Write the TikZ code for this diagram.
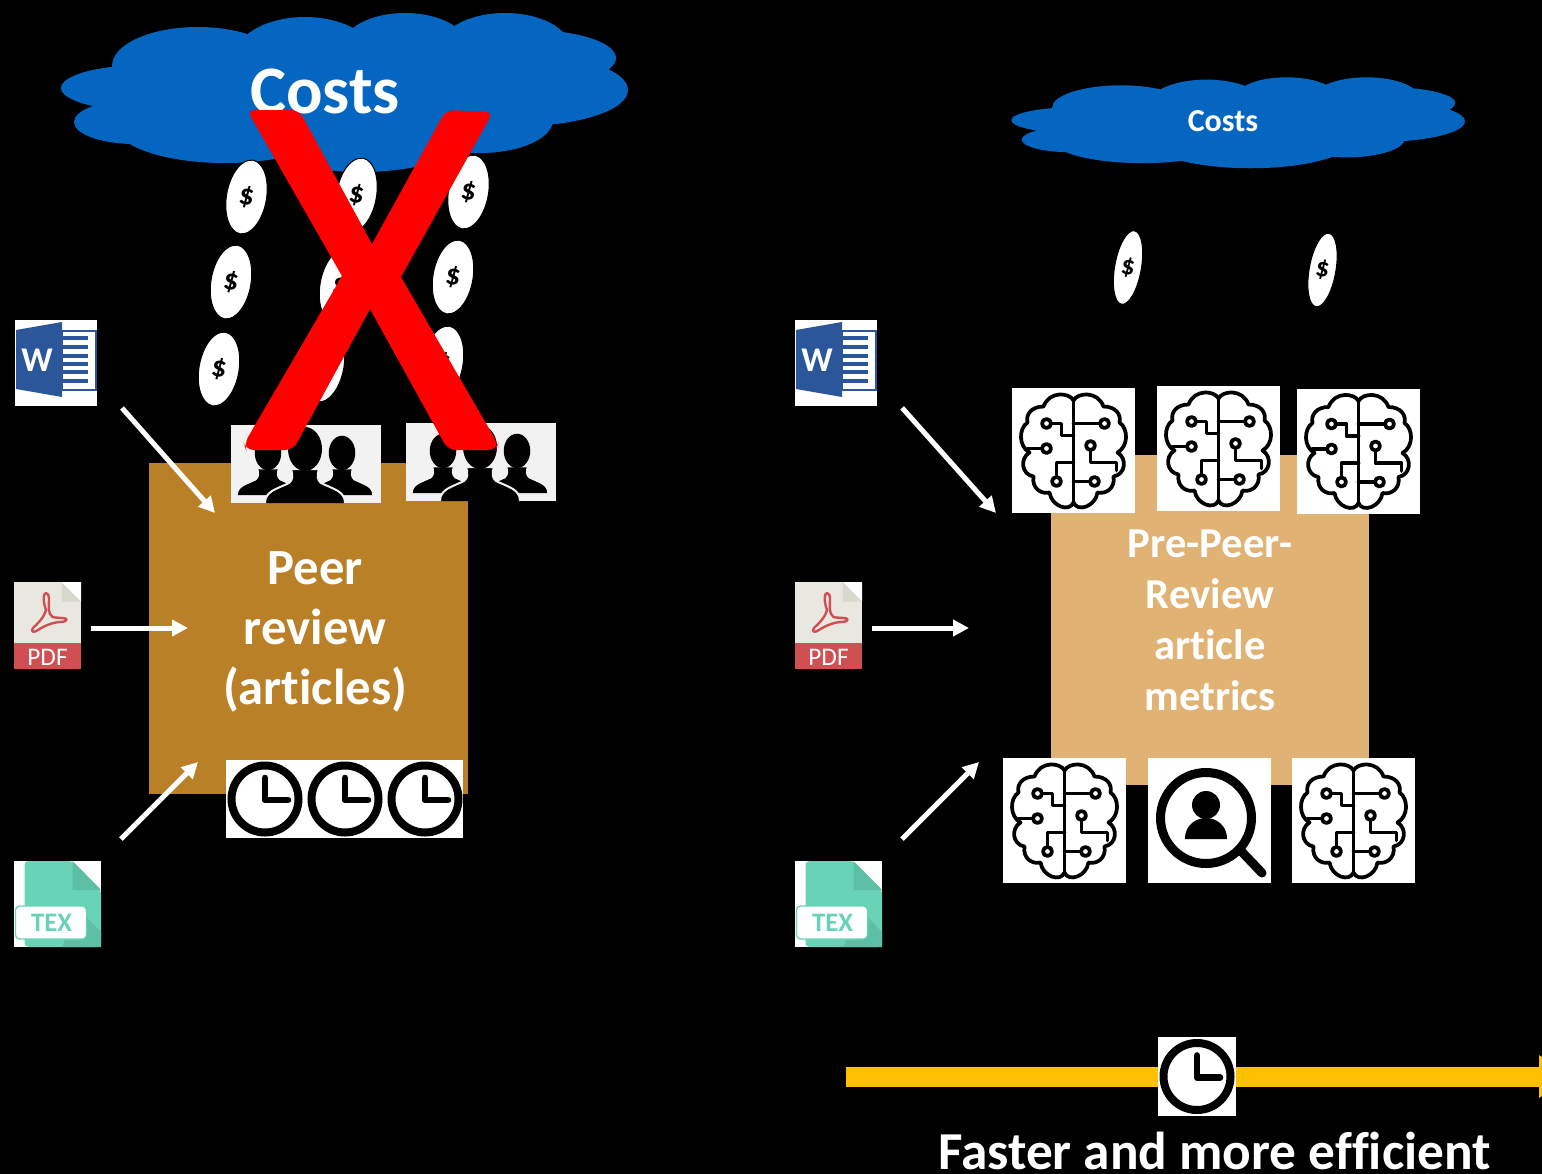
\documentclass[tikz,border=0pt]{standalone}
\usepackage{fontspec}
\setmainfont{Carlito}[Ligatures=NoCommon]
\usetikzlibrary{arrows.meta,shapes.geometric}

\definecolor{cloudblue}{RGB}{4,102,193}
\definecolor{peerbrown}{RGB}{186,128,40}
\definecolor{metrictan}{RGB}{224,178,115}
\definecolor{wordblue}{RGB}{43,87,154}
\definecolor{pdfred}{RGB}{208,79,82}
\definecolor{pdfgrey}{RGB}{232,232,224}
\definecolor{pdffold}{RGB}{216,216,204}
\definecolor{texgreen}{RGB}{105,211,184}
\definecolor{texfold}{RGB}{93,191,166}
\definecolor{timeyellow}{RGB}{255,192,0}
\definecolor{peoplegrey}{RGB}{242,242,242}

\tikzset{
    every pic/.style={yscale=-1},
    whitebox/.style={rectangle,fill=white,inner sep=0pt},
    brainbox/.style={whitebox,minimum width=92.25pt,minimum height=93.75pt},
    clockbox/.style={whitebox,minimum height=58.5pt},
    coin/.style={
        ellipse,draw=black,fill=white,line width=0.75pt,inner sep=0pt,
        minimum width=30pt,minimum height=56pt,rotate=-10,
        font=\bfseries\fontsize{22}{22}\selectfont
    },
    thincoin/.style={coin,minimum width=20pt,font=\bfseries\fontsize{20}{20}\selectfont},
    feedarrow/.style={
        draw=white,line width=3.75pt,
        -{Triangle[length=12pt,width=12pt,fill=white]}
    },
    cloud/.pic={
        \fill [cloudblue]
            (0,0) ellipse [x radius=190,y radius=55]
            (-147,-26) ellipse [x radius=86,y radius=39]
            (-200,-4) ellipse [x radius=84,y radius=23]
            (-210,30) ellipse [x radius=61,y radius=22]
            (-120,33) ellipse [x radius=110,y radius=38]
            (15,28) ellipse [x radius=130,y radius=52]
            (135,28) ellipse [x radius=73,y radius=33]
            (175,-2) ellipse [x radius=108,y radius=36]
            (185,-34) ellipse [x radius=86,y radius=28]
            (160,-44) ellipse [x radius=65,y radius=35]
            (60,-46) ellipse [x radius=62,y radius=33]
            (-40,-32) ellipse [x radius=72,y radius=43];
    },
    person/.pic={
        \path [fill=black,draw=peoplegrey,line width=1.5pt]
            (-40,0) .. controls (-40,-12) and (-28,-14) .. (-16,-20)
            .. controls (-12,-23) and (-12,-28) .. (-14,-34)
            -- (14,-34)
            .. controls (12,-28) and (12,-23) .. (16,-20)
            .. controls (28,-14) and (40,-12) .. (40,0);
        \fill [black] (0,-54) ellipse [x radius=17,y radius=22];
    },
    people/.pic={
        \node [rectangle,fill=peoplegrey,inner sep=0pt,minimum width=112.5pt,minimum height=58.5pt] (-box) at (0,0) {};
        \pic [scale=0.78] at (-38,31) {person};
        \pic [scale=0.78] at (36,31) {person};
        \pic at (-1,39) {person};
    },
    clockface/.pic={
        \draw [line width=6pt] (0,0) circle [radius=33.5];
        \draw [line width=5pt,line cap=round,line join=round] (0,-21) -- (0,1) -- (23,1);
    },
    brain/.pic={
        \node [brainbox] (-box) at (0,0) {};
        \begin{scope}[line width=2.8pt,line join=round,line cap=round]
            \foreach \side in {1,-1} {
                \draw [xscale=\side]
                    (0,-50) .. controls (-4,-58) and (-24,-60) .. (-30,-44)
                    .. controls (-42,-44) and (-48,-36) .. (-46,-28)
                    .. controls (-55,-22) and (-55,-4) .. (-44,2)
                    .. controls (-54,8) and (-52,24) .. (-40,26)
                    .. controls (-42,38) and (-32,44) .. (-24,42)
                    .. controls (-22,56) and (-4,62) .. (0,52);
            }
            \draw (0,-50) -- (0,52);
            % circuit
            \draw (-27,-27) circle [radius=4.5];
            \draw (-22.5,-27) -- (-12,-27) -- (-12,-15) -- (0,-15);
            \draw (-27,-2) circle [radius=4.5];
            \draw (-31.5,-2) -- (-46,-2);
            \draw (-17,31) circle [radius=4.5];
            \draw (-17,26.5) -- (-17,12) -- (0,12);
            \draw (31,-27) circle [radius=4.5];
            \draw (26.5,-27) -- (0,-27);
            \draw (17,-5) circle [radius=4.5];
            \draw (17,-0.5) -- (17,12) -- (43,12) -- (43,20);
            \draw (21,31) circle [radius=4.5];
            \draw (16.5,31) -- (0,31);
        \end{scope}
    },
    finder/.pic={
        \node [brainbox] (-box) at (0,0) {};
        \draw [line width=6.75pt] (-3,-2) circle [radius=45.5];
        \draw [line width=6.75pt,line cap=round] (33,32) -- (53,53);
        \fill (-3,-15) circle [radius=14];
        \fill (-24,19) .. controls (-24,4) and (-12,-2) .. (-3,-2)
            .. controls (6,-2) and (18,4) .. (18,19) -- cycle;
    },
    wordicon/.pic={
        \node [whitebox,minimum width=61.5pt,minimum height=64.5pt] (-box) at (0,0) {};
        \draw [wordblue,fill=white,line width=1.5pt] (6,-32) rectangle (39.5,27);
        \draw [wordblue,line width=2.4pt]
            (7,-24.5) -- (32,-24.5) (7,-15.5) -- (32,-15.5) (7,-6.5) -- (32,-6.5)
            (7,1.5) -- (32,1.5) (7,9.5) -- (32,9.5) (7,18.5) -- (32,18.5);
        \fill [wordblue] (-40,-32.5) -- (6,-40.5) -- (6,34.5) -- (-40,26.5) -- cycle;
        \node [text=white,font=\bfseries\fontsize{26}{26}\selectfont,inner sep=0pt] (-label) at (-19,-2) {W};
    },
    pdficon/.pic={
        \node [rectangle,fill=pdfgrey,inner sep=0pt,minimum width=50.25pt,minimum height=65.25pt] (-box) at (0,0) {};
        \fill [white] (14,-43.5) -- (33.5,-43.5) -- (33.5,-24) -- cycle;
        \fill [pdffold] (14,-43.5) -- (33.5,-24) -- (14,-24) -- cycle;
        \fill [pdfred] (-33.5,17.5) rectangle (33.5,43.5);
        \draw [pdfred,line width=1.8pt,line join=round]
            (-1.5,-32.5) .. controls (-4.5,-32.5) and (-4.5,-23.5) .. (-1.5,-15.5)
            .. controls (-3.5,-7.5) and (-10.5,-1.5) .. (-14.5,2.5)
            .. controls (-17.5,6.5) and (-13.5,7.5) .. (-9.5,4.5)
            .. controls (-3.5,0.5) and (4.5,-3) .. (12.5,-3.5)
            .. controls (18.5,-3.5) and (20.5,-6) .. (18,-7)
            .. controls (14,-8) and (8,-7.5) .. (5,-8.5)
            .. controls (0,-12) and (1.5,-20) .. (1.5,-26)
            .. controls (1.5,-30) and (0.5,-32.5) .. (-1.5,-32.5) -- cycle;
        \node [text=white,font=\fontsize{19}{19}\selectfont,inner sep=0pt] (-label) at (0,31.5) {PDF};
    },
    texicon/.pic={
        \node [whitebox,minimum width=65.25pt,minimum height=64.5pt] (-box) at (0,0) {};
        \fill [texgreen,rounded corners=3pt] (-33,-43) -- (15,-43) -- (43.5,-14) -- (43.5,43) -- (-33,43) -- cycle;
        \fill [texfold] (15,-43) -- (43.5,-14) -- (15,-14) -- cycle;
        \fill [texfold] (18,2) -- (43.5,28) -- (43.5,43) -- (5,43) -- cycle;
        \draw [texgreen,fill=white,line width=1pt,rounded corners=3pt] (-42,2) rectangle (29,35);
        \node [text=texgreen,font=\bfseries\fontsize{20}{20}\selectfont,inner sep=0pt] (-label) at (-6,18.5) {TEX};
    },
}

\begin{document}
\begin{tikzpicture}[
    x=0.75pt,y=0.75pt,
    yscale=-1,xscale=1,
]
    \useasboundingbox (0,0) rectangle (1542,1174);
    \clip (0,0) rectangle (1542,1174);
    \fill [black] (0,0) rectangle (1542,1174);

    % clouds
    \pic at (345,92) {cloud};
    \pic [xscale=0.8,yscale=0.572] at (1238.5,122.5) {cloud};
    \node [text=white,font=\bfseries\fontsize{51}{51}\selectfont,inner sep=0pt] (costsleft) at (325,91) {Costs};
    \node [text=white,font=\bfseries\fontsize{24}{24}\selectfont,inner sep=0pt] (costsright) at (1223,121) {Costs};

    % coins
    \node [coin] (coinA) at (246.5,197) {\$};
    \node [coin] (coinB) at (356.5,195) {\$};
    \node [coin] (coinC) at (468.5,192) {\$};
    \node [coin] (coinD) at (231,282) {\$};
    \node [coin] (coinE) at (340,286) {\$};
    \node [coin] (coinF) at (453,277) {\$};
    \node [coin] (coinG) at (219,369) {\$};
    \node [coin] (coinH) at (324,365) {\$};
    \node [coin] (coinI) at (443,363) {\$};
    \node [thincoin] (coinJ) at (1128,267.5) {\$};
    \node [thincoin] (coinK) at (1322.5,270) {\$};

    % boxes
    \node [rectangle,fill=peerbrown,inner sep=0pt,minimum width=239.25pt,minimum height=248.25pt] (peerbox) at (308.5,628.5) {};
    \node [text=white,align=center,inner sep=0pt,font=\bfseries\fontsize{38}{45}\selectfont] (peerlabel) at (315,632) {Peer\\review\\(articles)};
    \node [rectangle,fill=metrictan,text=white,align=center,inner sep=0pt,font=\bfseries\fontsize{32}{38.25}\selectfont,minimum width=238.5pt,minimum height=247.5pt] (metricbox) at (1210,620) {Pre-Peer-\\Review\\article\\metrics};

    % people and clocks
    \pic (peopleA) at (306,464) {people};
    \pic (peopleB) at (481,462) {people};
    \node [clockbox,minimum width=177.75pt] (clockrow) at (344.5,799) {};
    \pic at (265,799) {clockface};
    \pic at (345,799) {clockface};
    \pic at (425,799) {clockface};

    % brains
    \pic (brainA) at (1073.5,450.5) {brain};
    \pic (brainB) at (1218.5,448.5) {brain};
    \pic (brainC) at (1358.5,451) {brain};
    \pic (brainD) at (1064.5,820.5) {brain};
    \pic (finderE) at (1209,820) {finder};
    \pic (brainF) at (1353.5,820.5) {brain};

    % icons
    \pic (wordleft) at (56,362.5) {wordicon};
    \pic (pdfleft) at (47.5,625.5) {pdficon};
    \pic (texleft) at (57.5,904) {texicon};
    \pic (wordright) at (836,362.5) {wordicon};
    \pic (pdfright) at (828.5,625.5) {pdficon};
    \pic (texright) at (838.5,904) {texicon};

    % arrows
    \coordinate (wordtipleft) at (215,513);
    \coordinate (pdftipleft) at (188,628);
    \coordinate (textipleft) at (198,762);
    \coordinate (wordtipright) at (996,513);
    \coordinate (pdftipright) at (969,628);
    \coordinate (textipright) at (979,762);
    \draw [feedarrow,shorten <=28pt] (wordleft-box.-23) -- (wordtipleft);
    \draw [feedarrow,shorten <=7.5pt] (pdfleft-box.east |- pdftipleft) -- (pdftipleft);
    \draw [feedarrow,shorten <=23pt] (texleft-box.46) -- (textipleft);
    \draw [feedarrow,shorten <=28pt] (wordright-box.-23) -- (wordtipright);
    \draw [feedarrow,shorten <=7.5pt] (pdfright-box.east |- pdftipright) -- (pdftipright);
    \draw [feedarrow,shorten <=23pt] (texright-box.46) -- (textipright);

    % time line
    \coordinate (timestart) at (846,1076.5);
    \coordinate (timeend) at (1575,1076.5);
    \draw [timeyellow,line width=15pt,-{Triangle[length=27pt,width=30pt]}] (timestart) -- (timeend);
    \node [clockbox,minimum width=58.5pt,minimum height=59.25pt] (timebox) at (1197,1076.5) {};
    \pic at (1197,1076.5) {clockface};
    \node [text=white,font=\bfseries\fontsize{40}{40}\selectfont,inner sep=0pt,anchor=base] (fasterlabel) at (1214.5,1169) {Faster and more efficient};

    % red cross
    \fill [red,rounded corners=6pt]
        (247,110) -- (299,110)
        [sharp corners] -- (372,244) [rounded corners=6pt]
        -- (446,110) -- (493,112)
        [sharp corners] -- (401,277) [rounded corners=6pt]
        -- (498,444) -- (496,450) -- (448,450)
        [sharp corners] -- (370,309) [rounded corners=6pt]
        -- (293,450) -- (246,450) -- (244,444)
        [sharp corners] -- (342,276) [rounded corners=6pt]
        -- cycle;
\end{tikzpicture}
\end{document}
